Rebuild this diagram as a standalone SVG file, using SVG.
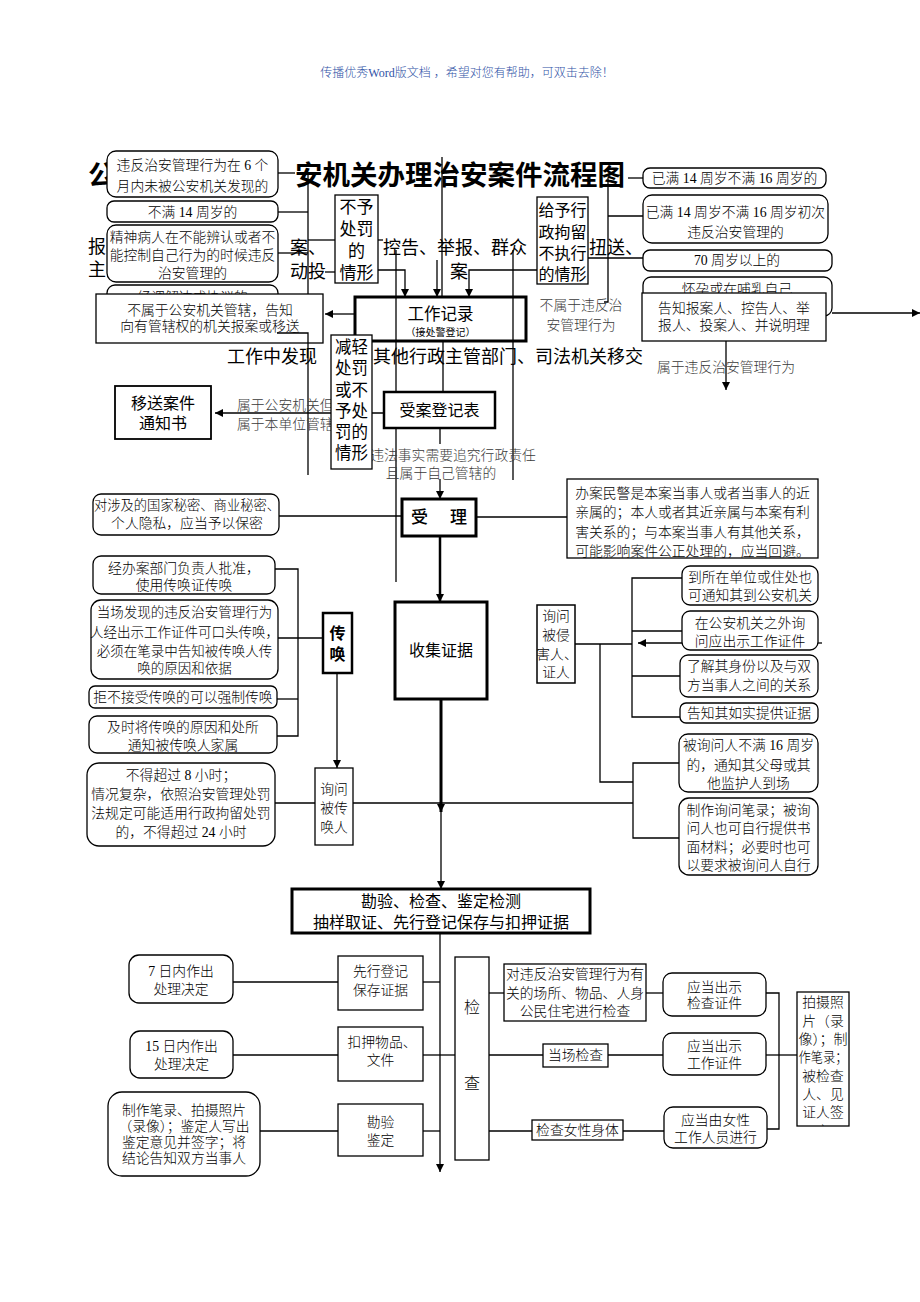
<svg xmlns="http://www.w3.org/2000/svg" width="920" height="1302" viewBox="0 0 920 1302">
<defs>
<style>
.bx{fill:#fff;stroke:#000;stroke-width:1.3}
.bk{fill:#fff;stroke:#000;stroke-width:3}
.ln{fill:none;stroke:#000;stroke-width:1.3}
.lk{fill:none;stroke:#000;stroke-width:3}
.t{font-family:"Liberation Serif","Noto Sans CJK SC",serif;font-size:13.8px;text-anchor:middle;dominant-baseline:central;fill:#000;font-weight:300}
.s{font-family:"Liberation Sans","Noto Sans CJK SC",sans-serif;text-anchor:middle;dominant-baseline:central;fill:#000}
.f{font-family:"Liberation Sans","Noto Sans CJK SC",sans-serif;font-size:18px;dominant-baseline:central;fill:#000}
.g{fill:#3a3a3a}
</style>
<marker id="ah" viewBox="0 0 10 10" refX="10" refY="5" markerWidth="8" markerHeight="8" markerUnits="userSpaceOnUse" orient="auto"><path d="M0,0 L10,5 L0,10 z" fill="#000"/></marker>
<clipPath id="cp1"><rect x="797" y="992" width="52" height="134"/></clipPath>
</defs>
<rect width="920" height="1302" fill="#fff"/>

<g id="header">
<text class="t" x="467" y="73" style="font-size:12px;fill:#2f52a6">传播优秀Word版文档 ，希望对您有帮助，可双击去除！</text>
</g>

<g id="bg-text">
<text class="f" x="88" y="175" style="font-size:27.5px;font-weight:700">公</text>
<text class="f" x="295" y="175" style="font-size:27.5px;font-weight:700">安机关办理治安案件流程图</text>
<text class="f" x="88" y="247">报</text>
<text class="f" x="88" y="270">主</text>
<text class="f" x="290" y="248">案、</text>
<text class="f" x="290" y="272">动投</text>
<text class="f" x="383" y="248">控告、举报、群众</text>
<text class="f" x="450" y="272">案</text>
<text class="f" x="589" y="248">扭送、</text>
<text class="f" x="227" y="357">工作中发现</text>
<text class="f" x="373" y="357">其他行政主管部门、司法机关移交</text>
</g>

<g id="connectors">
<path class="ln" d="M278,173 H295"/>
<path class="ln" d="M308,173 V475"/>
<path class="ln" d="M278,212 H308"/>
<path class="ln" d="M278,253 H308"/>
<path class="ln" d="M308,240 H335"/>
<path class="ln" d="M325,272 H335"/>
<path class="ln" d="M378,240 H383"/>
<path class="ln" d="M378,270 H405 V297" marker-end="url(#ah)"/>
<path class="ln" d="M437,260 V297" marker-end="url(#ah)"/>
<path class="ln" d="M442,157 V297"/>
<path class="ln" d="M537,270 H469 V297" marker-end="url(#ah)"/>
<path class="ln" d="M396,250 V582"/>
<path class="ln" d="M513,250 V480"/>
<path class="ln" d="M628,178 H643"/>
<path class="ln" d="M608,178 V302 H604"/>
<path class="ln" d="M608,216 H643"/>
<path class="ln" d="M588,258 H643"/>
<path class="ln" d="M355,314 H325" marker-end="url(#ah)"/>
<path class="ln" d="M832,313 H920" marker-end="url(#ah)"/>
<path class="ln" d="M726,341 V390" marker-end="url(#ah)"/>
<path class="ln" d="M443,341 V392"/>
<path class="ln" d="M384,413 H215" marker-end="url(#ah)"/>
<path class="ln" d="M440,428 V444"/>
<path class="ln" d="M440,479 V499" marker-end="url(#ah)"/>
<path class="ln" d="M279,516 H402"/>
<path class="ln" d="M476,517 H567"/>
<path class="ln" d="M440,536 V602" style="stroke-width:2.5" marker-end="url(#ah)"/>
<path class="lk" d="M441,699 V812" marker-end="url(#ah)"/>
<path class="ln" d="M441,812 V889" marker-end="url(#ah)"/>
<path class="ln" d="M275,569 H298 V736 H277"/>
<path class="ln" d="M278,638 H323"/>
<path class="ln" d="M277,699 H298"/>
<path class="ln" d="M337,673 V768" marker-end="url(#ah)"/>
<path class="ln" d="M275,803 H315"/>
<path class="ln" d="M353,803 H633"/>
<path class="ln" d="M679,763 H633 V838 H679"/>
<path class="ln" d="M575,644 H632"/>
<path class="ln" d="M600,644 V782 H633"/>
<path class="ln" d="M682,578 H632 V717 H680"/>
<path class="ln" d="M632,631 H682"/>
<path class="ln" d="M632,676 H680"/>
<path class="ln" d="M682,643 H638" marker-end="url(#ah)"/>
<path class="ln" d="M818,643 H822"/>
<path class="ln" d="M440,933 V1172" marker-end="url(#ah)"/>
<path class="ln" d="M233,982 H338"/>
<path class="ln" d="M423,982 H440"/>
<path class="ln" d="M233,1055 H338"/>
<path class="ln" d="M423,1055 H455"/>
<path class="ln" d="M489,1055 H543"/>
<path class="ln" d="M608,1055 H663"/>
<path class="ln" d="M260,1131 H338"/>
<path class="ln" d="M423,1131 H440"/>
<path class="ln" d="M489,1131 H532"/>
<path class="ln" d="M623,1131 H664"/>
<path class="ln" d="M489,993 H504"/>
<path class="ln" d="M646,993 H663"/>
<path class="ln" d="M766,993 H779 V1129 H767"/>
<path class="ln" d="M766,1055 H797"/>
<text class="t g" x="237" y="405" style="text-anchor:start">属于公安机关但</text>
<text class="t g" x="237" y="424" style="text-anchor:start">属于本单位管辖</text>
<text class="t g" x="453" y="455">违法事实需要追究行政责任</text>
<text class="t g" x="441" y="473">且属于自己管辖的</text>
<text class="t g" x="581" y="305">不属于违反治</text>
<text class="t g" x="581" y="325">安管理行为</text>
<text class="t g" x="726" y="367">属于违反治安管理行为</text>
</g>

<g id="n-6months">
<rect class="bx" x="107" y="151" width="171" height="46" rx="9"/>
<text class="t" x="192.5" y="165">违反治安管理行为在 6 个</text>
<text class="t" x="192.5" y="186">月内未被公安机关发现的</text>
</g>
<g id="n-under14">
<rect class="bx" x="107" y="201" width="171" height="21" rx="7"/>
<text class="t" x="192.5" y="212">不满 14 周岁的</text>
</g>
<g id="n-mental">
<rect class="bx" x="107" y="225" width="171" height="57" rx="9"/>
<text class="t" x="192.5" y="237">精神病人在不能辨认或者不</text>
<text class="t" x="192.5" y="255">能控制自己行为的时候违反</text>
<text class="t" x="192.5" y="273">治安管理的</text>
</g>
<g id="n-mediation">
<rect class="bx" x="107" y="285" width="171" height="26" rx="8"/>
<text class="t" x="192.5" y="297">经调解达成协议的</text>
</g>
<g id="n-notjuris">
<rect class="bx" x="96" y="294" width="227" height="49"/>
<text class="t" x="210" y="310">不属于公安机关管辖，告知</text>
<text class="t" x="210" y="326">向有管辖权的机关报案或移送</text>
<path class="ln" d="M277,333 H308 V343"/>
</g>
<g id="n-nopunish">
<rect class="bx" x="335" y="195" width="43" height="88"/>
<text class="s" x="356.5" y="207" style="font-size:17px">不予</text>
<text class="s" x="356.5" y="229" style="font-size:17px">处罚</text>
<text class="s" x="356.5" y="251" style="font-size:17px">的</text>
<text class="s" x="356.5" y="273" style="font-size:17px">情形</text>
</g>
<g id="n-detention">
<rect class="bx" x="537" y="197" width="51" height="87"/>
<text class="s" x="562.5" y="210" style="font-size:16px">给予行</text>
<text class="s" x="562.5" y="232" style="font-size:16px">政拘留</text>
<text class="s" x="562.5" y="253" style="font-size:16px">不执行</text>
<text class="s" x="562.5" y="274" style="font-size:16px">的情形</text>
</g>
<g id="n-14to16">
<rect class="bx" x="643" y="168" width="183" height="20" rx="7"/>
<text class="t" x="734.5" y="178">已满 14 周岁不满 16 周岁的</text>
</g>
<g id="n-14to16first">
<rect class="bx" x="643" y="195" width="185" height="48" rx="9"/>
<text class="t" x="735.5" y="212">已满 14 周岁不满 16 周岁初次</text>
<text class="t" x="735.5" y="232">违反治安管理的</text>
</g>
<g id="n-70">
<rect class="bx" x="643" y="250" width="189" height="21" rx="7"/>
<text class="t" x="737" y="260.5">70 周岁以上的</text>
</g>
<g id="n-pregnant">
<rect class="bx" x="643" y="277" width="189" height="39" rx="8"/>
<text class="t" x="737" y="289">怀孕或在哺乳自己</text>
</g>
<g id="n-inform">
<rect class="bx" x="642" y="293" width="184" height="48"/>
<text class="t" x="734" y="308">告知报案人、控告人、举</text>
<text class="t" x="734" y="325">报人、投案人、并说明理</text>
</g>
<g id="n-record">
<rect x="355" y="297" width="171" height="44" style="fill:none;stroke:#000;stroke-width:3"/>
<text class="s" x="440.5" y="314" style="font-size:16.5px">工作记录</text>
<text class="s" x="440.5" y="332" style="font-size:10px">（接处警登记）</text>
</g>
<g id="n-lighter">
<rect class="bx" x="331" y="335" width="41" height="134"/>
<text class="s" x="351.5" y="347" style="font-size:16.5px">减轻</text>
<text class="s" x="351.5" y="368" style="font-size:16.5px">处罚</text>
<text class="s" x="351.5" y="390" style="font-size:16.5px">或不</text>
<text class="s" x="351.5" y="411" style="font-size:16.5px">予处</text>
<text class="s" x="351.5" y="432" style="font-size:16.5px">罚的</text>
<text class="s" x="351.5" y="453" style="font-size:16.5px">情形</text>
</g>
<g id="n-transfer">
<rect class="bx" x="115" y="386" width="96" height="53" style="stroke-width:1.8"/>
<text class="s" x="163" y="403" style="font-size:16px">移送案件</text>
<text class="s" x="163" y="423" style="font-size:16px">通知书</text>
</g>
<g id="n-register">
<rect class="bx" x="384" y="392" width="111" height="36" style="stroke-width:2.5"/>
<text class="s" x="439.5" y="410" style="font-size:16px">受案登记表</text>
</g>
<g id="n-accept">
<rect class="bk" x="402" y="499" width="74" height="37"/>
<text class="s" x="419.5" y="517" style="font-size:17px;font-weight:500">受</text>
<text class="s" x="458.5" y="517" style="font-size:17px;font-weight:500">理</text>
</g>
<g id="n-recuse">
<rect class="bx" x="567" y="479" width="251" height="79"/>
<text class="t" x="692.5" y="493">办案民警是本案当事人或者当事人的近</text>
<text class="t" x="692.5" y="512">亲属的；本人或者其近亲属与本案有利</text>
<text class="t" x="692.5" y="532">害关系的；与本案当事人有其他关系，</text>
<text class="t" x="692.5" y="551">可能影响案件公正处理的，应当回避。</text>
</g>
<g id="n-secret">
<rect class="bx" x="93" y="494" width="186" height="41" rx="8"/>
<text class="t" x="187" y="505" style="font-size:13.3px">对涉及的国家秘密、商业秘密、</text>
<text class="t" x="187" y="523">个人隐私，应当予以保密</text>
</g>
<g id="n-summon">
<rect class="bx" x="323" y="613" width="29" height="60" style="stroke-width:2.5"/>
<text class="s" x="337.5" y="633" style="font-size:16px;font-weight:700">传</text>
<text class="s" x="337.5" y="654" style="font-size:16px;font-weight:700">唤</text>
</g>
<g id="n-approve">
<rect class="bx" x="93" y="556" width="182" height="38" rx="8"/>
<text class="t" x="184" y="568">经办案部门负责人批准，</text>
<text class="t" x="184" y="585">使用传唤证传唤</text>
</g>
<g id="n-oral">
<rect class="bx" x="91" y="600" width="187" height="79" rx="10"/>
<text class="t" x="184.5" y="612" style="font-size:13.5px">当场发现的违反治安管理行为</text>
<text class="t" x="184.5" y="632" style="font-size:13.5px">人经出示工作证件可口头传唤，</text>
<text class="t" x="184.5" y="651" style="font-size:13.5px">必须在笔录中告知被传唤人传</text>
<text class="t" x="184.5" y="668" style="font-size:13.5px">唤的原因和依据</text>
</g>
<g id="n-force">
<rect class="bx" x="89" y="686" width="188" height="22" rx="6"/>
<text class="t" x="183" y="697">拒不接受传唤的可以强制传唤</text>
</g>
<g id="n-family">
<rect class="bx" x="89" y="716" width="188" height="37" rx="8"/>
<text class="t" x="183" y="727">及时将传唤的原因和处所</text>
<text class="t" x="183" y="745">通知被传唤人家属</text>
</g>
<g id="n-8h">
<rect class="bx" x="87" y="763" width="188" height="83" rx="12"/>
<text class="t" x="181" y="775">不得超过 8 小时；</text>
<text class="t" x="181" y="794">情况复杂，依照治安管理处罚</text>
<text class="t" x="181" y="813">法规定可能适用行政拘留处罚</text>
<text class="t" x="181" y="832">的，不得超过 24 小时</text>
</g>
<g id="n-ask-summoned">
<rect class="bx" x="315" y="768" width="38" height="77"/>
<text class="t" x="334" y="789">询问</text>
<text class="t" x="334" y="808">被传</text>
<text class="t" x="334" y="827">唤人</text>
</g>
<g id="n-evidence">
<rect class="bk" x="395" y="602" width="92" height="97"/>
<text class="s" x="441" y="650" style="font-size:16px">收集证据</text>
</g>
<g id="n-ask-victim">
<rect class="bx" x="537" y="605" width="38" height="78" style="stroke-width:1.5"/>
<text class="t" x="556" y="616">询问</text>
<text class="t" x="556" y="635">被侵</text>
<text class="t" x="557" y="654">害人、</text>
<text class="t" x="556" y="672">证人</text>
</g>
<g id="n-place">
<rect class="bx" x="682" y="566" width="136" height="39" rx="8"/>
<text class="t" x="750" y="577">到所在单位或住处也</text>
<text class="t" x="750" y="595">可通知其到公安机关</text>
</g>
<g id="n-outside">
<rect class="bx" x="682" y="611" width="136" height="39" rx="8"/>
<text class="t" x="750" y="623">在公安机关之外询</text>
<text class="t" x="750" y="641">问应出示工作证件</text>
</g>
<g id="n-identity">
<rect class="bx" x="680" y="655" width="138" height="42" rx="8"/>
<text class="t" x="749" y="666">了解其身份以及与双</text>
<text class="t" x="749" y="685">方当事人之间的关系</text>
</g>
<g id="n-truth">
<rect class="bx" x="680" y="703" width="138" height="20" rx="6"/>
<text class="t" x="749" y="713">告知其如实提供证据</text>
</g>
<g id="n-minor">
<rect class="bx" x="679" y="734" width="139" height="58" rx="9"/>
<text class="t" x="748.5" y="745">被询问人不满 16 周岁</text>
<text class="t" x="748.5" y="765">的，通知其父母或其</text>
<text class="t" x="748.5" y="783">他监护人到场</text>
</g>
<g id="n-transcript">
<rect class="bx" x="679" y="798" width="139" height="77" rx="10"/>
<text class="t" x="748.5" y="810">制作询问笔录；被询</text>
<text class="t" x="748.5" y="828">问人也可自行提供书</text>
<text class="t" x="748.5" y="847">面材料；必要时也可</text>
<text class="t" x="748.5" y="865">以要求被询问人自行</text>
</g>
<g id="n-inspect-all">
<rect class="bk" x="292" y="889" width="298" height="44"/>
<text class="s" x="441" y="901" style="font-size:16px">勘验、检查、鉴定检测</text>
<text class="s" x="441" y="922" style="font-size:16px">抽样取证、先行登记保存与扣押证据</text>
</g>
<g id="n-7days">
<rect class="bx" x="129" y="955" width="104" height="48" rx="10"/>
<text class="t" x="181" y="971">7 日内作出</text>
<text class="t" x="181" y="989">处理决定</text>
</g>
<g id="n-preserve">
<rect class="bx" x="338" y="956" width="85" height="54"/>
<text class="t" x="380.5" y="971">先行登记</text>
<text class="t" x="380.5" y="990">保存证据</text>
</g>
<g id="n-15days">
<rect class="bx" x="130" y="1031" width="103" height="47" rx="10"/>
<text class="t" x="181.5" y="1046">15 日内作出</text>
<text class="t" x="181.5" y="1064">处理决定</text>
</g>
<g id="n-seize">
<rect class="bx" x="338" y="1027" width="85" height="54"/>
<text class="t" x="382" y="1042">扣押物品、</text>
<text class="t" x="380.5" y="1060">文件</text>
</g>
<g id="n-photo">
<rect class="bx" x="108" y="1092" width="152" height="84" rx="14"/>
<text class="t" x="184" y="1110">制作笔录、拍摄照片</text>
<text class="t" x="184" y="1126.5">（录像）；鉴定人写出</text>
<text class="t" x="184" y="1142">鉴定意见并签字；将</text>
<text class="t" x="184" y="1158.5">结论告知双方当事人</text>
</g>
<g id="n-survey">
<rect class="bx" x="338" y="1104" width="85" height="52"/>
<text class="t" x="380.5" y="1122">勘验</text>
<text class="t" x="380.5" y="1140">鉴定</text>
</g>
<g id="n-check">
<rect class="bx" x="455" y="957" width="34" height="203"/>
<text class="t" x="472" y="1007" style="font-size:16px">检</text>
<text class="t" x="472" y="1083" style="font-size:16px">查</text>
</g>
<g id="n-check-place">
<rect class="bx" x="504" y="964" width="142" height="57"/>
<text class="t" x="575" y="974">对违反治安管理行为有</text>
<text class="t" x="575" y="993">关的场所、物品、人身</text>
<text class="t" x="575" y="1011">公民住宅进行检查</text>
</g>
<g id="n-cert1">
<rect class="bx" x="663" y="973" width="103" height="43" rx="9"/>
<text class="t" x="714.5" y="987">应当出示</text>
<text class="t" x="714.5" y="1003">检查证件</text>
</g>
<g id="n-spot">
<rect class="bx" x="543" y="1044" width="65" height="23"/>
<text class="t" x="575.5" y="1055.5">当场检查</text>
</g>
<g id="n-cert2">
<rect class="bx" x="663" y="1033" width="103" height="42" rx="9"/>
<text class="t" x="714.5" y="1046">应当出示</text>
<text class="t" x="714.5" y="1063">工作证件</text>
</g>
<g id="n-female">
<rect class="bx" x="532" y="1120" width="91" height="20"/>
<text class="t" x="577.5" y="1130">检查女性身体</text>
</g>
<g id="n-femalestaff">
<rect class="bx" x="664" y="1107" width="103" height="41" rx="9"/>
<text class="t" x="715.5" y="1120">应当由女性</text>
<text class="t" x="715.5" y="1137">工作人员进行</text>
</g>
<g id="n-sign">
<rect class="bx" x="797" y="992" width="52" height="134"/>
<g clip-path="url(#cp1)">
<text class="t" x="823" y="1002">拍摄照</text>
<text class="t" x="823" y="1021">片（录</text>
<text class="t" x="823" y="1039" textLength="49" lengthAdjust="spacingAndGlyphs">像）；制</text>
<text class="t" x="823" y="1057" textLength="49" lengthAdjust="spacingAndGlyphs">作笔录；</text>
<text class="t" x="823" y="1076">被检查</text>
<text class="t" x="823" y="1094">人、见</text>
<text class="t" x="823" y="1112">证人签</text>
<text class="t" x="823" y="1131">字</text>
</g>
</g>
</svg>
